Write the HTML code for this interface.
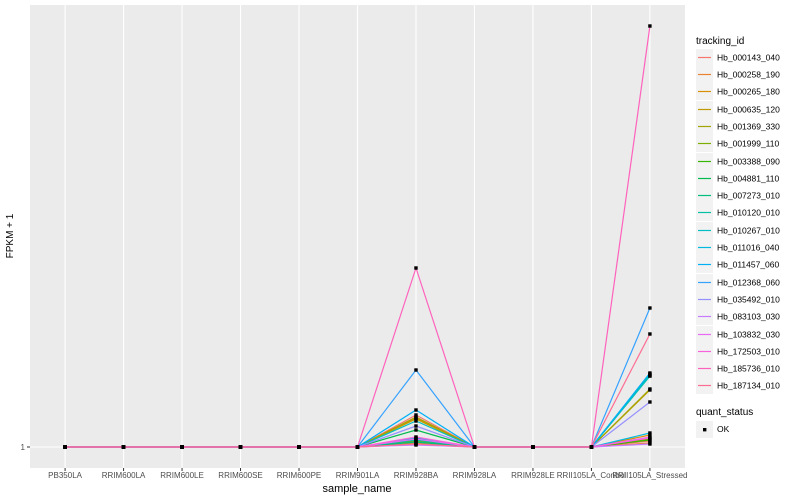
<!DOCTYPE html>
<html><head><meta charset="utf-8"><style>
body{margin:0;background:#fff;}
svg{display:block;font-family:"Liberation Sans",sans-serif;}
</style></head><body>
<svg id="chart" width="800" height="500" xmlns="http://www.w3.org/2000/svg">
<rect x="30" y="5" width="655" height="463" fill="#ebebeb"/>
<g id="grid"></g><g id="lines"></g><g id="pts"></g><g id="axes"></g><g id="legend"></g>
<text x="13" y="236" font-size="10" text-anchor="middle" transform="rotate(-90 13 236)">FPKM + 1</text>
<text x="357" y="492" font-size="11" text-anchor="middle">sample_name</text>
</svg>
<script>
const categories=["PB350LA","RRIM600LA","RRIM600LE","RRIM600SE","RRIM600PE","RRIM901LA","RRIM928BA","RRIM928LA","RRIM928LE","RRII105LA_Control","RRII105LA_Stressed"];
const seriesIds=["Hb_000143_040","Hb_000258_190","Hb_000265_180","Hb_000635_120","Hb_001369_330","Hb_001999_110","Hb_003388_090","Hb_004881_110","Hb_007273_010","Hb_010120_010","Hb_010267_010","Hb_011016_040","Hb_011457_060","Hb_012368_060","Hb_035492_010","Hb_083103_030","Hb_103832_030","Hb_172503_010","Hb_185736_010","Hb_187134_010"];
const seriesColors=["#F8766D","#EA8331","#D89000","#C09B00","#A3A500","#7CAE00","#39B600","#00BB4E","#00BF7D","#00C1A3","#00BFC4","#00BAE0","#00B0F6","#35A2FF","#9590FF","#C77CFF","#E76BF3","#FA62DB","#FF62BC","#FF6C91"];
const baPeak=[32,4,29,28,30,6,3,17,5,7,26,9,37,77,21,2,8,10,179,3];
const stressedPeak=[6,4,12,57,58,8,7,71,72,73,71,14,74,139,45,3,10,9,421,113];
const values=baPeak.map((b,i)=>[1,1,1,1,1,1,1+b,1,1,1,1+stressedPeak[i]]);
const yTicks=[1];
const ns="http://www.w3.org/2000/svg";
function mk(t,a,p){const e=document.createElementNS(ns,t);for(const k in a)e.setAttribute(k,a[k]);p.appendChild(e);return e;}
const L=30,R=685,T=5,B=468,unit=(R-L)/(categories.length-1+1.2);
const xS=i=>L+(i+0.6)*unit;
const yS=v=>447-(v-1)*1.0;
const grid=document.getElementById('grid'),axes=document.getElementById('axes');
categories.forEach((c,i)=>{
 const g=mk('line',{x1:xS(i),x2:xS(i),y1:T,y2:B,stroke:'#fff','stroke-width':1.1},grid);
 
 
 mk('line',{x1:xS(i),x2:xS(i),y1:B,y2:B+3,stroke:'#333'},axes);
 const t=mk('text',{x:xS(i),y:B+10,'font-size':8,'text-anchor':'middle',fill:'#4d4d4d'},axes);t.textContent=c;
 
 
});
yTicks.forEach(v=>{
 const g=mk('line',{x1:L,x2:R,y1:yS(v),y2:yS(v),stroke:'#fff','stroke-width':1.1},grid);
 
 
 mk('line',{x1:L-3,x2:L,y1:yS(v),y2:yS(v),stroke:'#333'},axes);
 const t=mk('text',{x:L-5,y:yS(v)+3,'font-size':8,'text-anchor':'end',fill:'#4d4d4d'},axes);t.textContent=v;
 
 
});
const lines=document.getElementById('lines'),pts=document.getElementById('pts');
values.forEach((s,k)=>{
 const p=mk('polyline',{points:s.map((v,i)=>xS(i)+','+yS(v)).join(' '),fill:'none',stroke:seriesColors[k],'stroke-width':1.2},lines);
 
 
});
values.forEach((s,k)=>s.forEach((v,i)=>{
 const r=mk('rect',{x:xS(i)-1.7,y:yS(v)-1.7,width:3.4,height:3.4,fill:'#000'},pts);
 
 
}));
const lg=document.getElementById('legend');
let t=mk('text',{x:696,y:44,'font-size':10},lg);t.textContent='tracking_id';


seriesIds.forEach((id,k)=>{
 const y=Math.round(56.7+k*17.3)+0.5;
 const g=mk('g',{},lg);
 
 
 mk('rect',{x:696,y:y-8.5,width:17,height:17,fill:'#f2f2f2'},g);
 mk('line',{x1:698,x2:711,y1:y,y2:y,stroke:seriesColors[k],'stroke-width':1.2},g);
 const tx=mk('text',{x:717,y:y+3,'font-size':8.5},g);tx.textContent=id;
});
t=mk('text',{x:696,y:415,'font-size':10},lg);t.textContent='quant_status';


const og=mk('g',{},lg);


mk('rect',{x:696,y:421,width:17,height:17,fill:'#f2f2f2'},og);
mk('rect',{x:703,y:428,width:3.4,height:3.4,fill:'#000'},og);
t=mk('text',{x:717,y:432,'font-size':8.5},og);t.textContent='OK';
</script>
</body></html>
